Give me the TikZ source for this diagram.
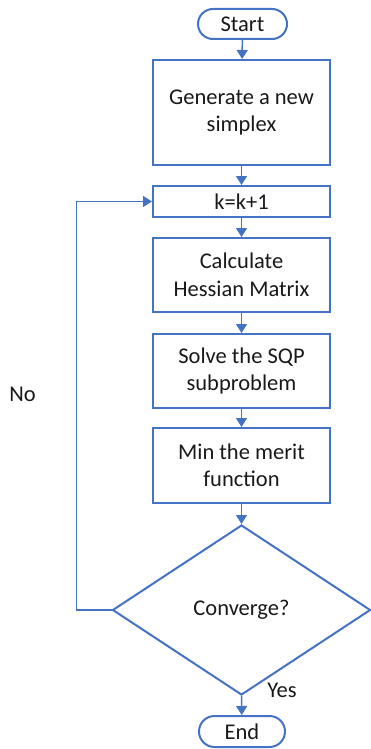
\documentclass[tikz,border=0pt]{standalone}
\usepackage{fontspec}
\setmainfont{Carlito}
\usetikzlibrary{shapes.geometric,shapes.misc,arrows.meta}
\definecolor{flowblue}{RGB}{68,114,196}
\definecolor{flowtext}{RGB}{25,25,25}
\tikzset{
  base/.style={draw=flowblue, line width=2pt, text=flowtext, align=center,
    font=\fontsize{22.5}{27.5}\selectfont, inner sep=0pt},
  procbox/.style={base, rectangle, minimum width=177pt},
  termbox/.style={base, rounded rectangle, minimum height=30pt},
  decbox/.style={base, diamond, minimum width=258pt, minimum height=170pt, aspect=1.52},
  flow/.style={draw=flowblue, line width=1.5pt, -{Triangle[width=11pt,length=9pt]}},
  lbl/.style={text=flowtext, font=\fontsize{22.5}{27.5}\selectfont, inner sep=0pt}
}
\begin{document}
\begin{tikzpicture}[x=1pt,y=-1pt]
\useasboundingbox (0,0) rectangle (370,749);
% process steps
\node[termbox, minimum width=89pt] (start) at (242.5,24) {Start};
\node[procbox, minimum height=105pt] (gen) at (241.5,112.5) {Generate a new\\simplex};
\node[procbox, minimum height=31pt] (k) at (241.5,201.5) {k=k+1};
\node[procbox, minimum height=74pt] (calc) at (241.5,275) {Calculate\\Hessian Matrix};
\node[procbox, minimum height=74pt] (solve) at (241.5,371) {Solve the SQP\\subproblem};
\node[procbox, minimum height=75pt] (merit) at (241.5,465.5) {Min the merit\\function};
\node[decbox] (conv) at (241.5,610) {Converge?};
\node[termbox, minimum width=86pt, minimum height=31pt] (end) at (242,731.5) {End};
% branch labels
\node[lbl] (no) at (22.5,394) {No};
\node[lbl] (yes) at (282,690) {Yes};
% connectors
\draw[flow] (start) -- (gen);
\draw[flow] (gen) -- (k);
\draw[flow] (k) -- (calc);
\draw[flow] (calc) -- (solve);
\draw[flow] (solve) -- (merit);
\draw[flow] (merit) -- (conv.north);
\draw[flow] (conv.south) -- (end);
\coordinate (loop) at (76.5,610);
\draw[flow] (conv.west) -- (loop) |- (k.west);
\end{tikzpicture}
\end{document}
